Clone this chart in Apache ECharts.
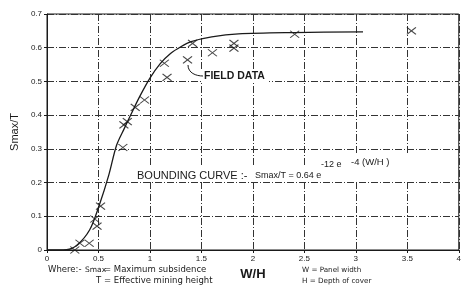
<!DOCTYPE html>
<html>
<head>
<meta charset="utf-8">
<script src="https://cdn.jsdelivr.net/npm/echarts@6/dist/echarts.min.js"></script>
<style>
  html, body { margin: 0; padding: 0; background: #fff; }
  #chart { width: 464px; height: 286px; }
</style>
</head>
<body>
<div id="chart"></div>
<script>
// field data points (W/H, Smax/T)
const fieldData = [
  [0.27, 0.0], [0.32, 0.02], [0.41, 0.02], [0.464, 0.092], [0.486, 0.071],
  [0.52, 0.13], [0.737, 0.304], [0.747, 0.371], [0.78, 0.381], [0.857, 0.423],
  [0.947, 0.445], [1.14, 0.554], [1.166, 0.512], [1.365, 0.564], [1.414, 0.613],
  [1.607, 0.585], [1.816, 0.613], [1.816, 0.599], [2.406, 0.64], [3.54, 0.65]
]

// bounding curve
const curveX = [0, 0.19, 0.29, 0.415, 0.51, 0.6, 0.675, 0.75, 0.82, 0.9, 1.0, 1.1, 1.2, 1.3, 1.4, 1.6, 1.86, 2.4, 3.07]
const curveY = [0, 0.001, 0.014, 0.06, 0.135, 0.222, 0.31, 0.36, 0.405, 0.455, 0.51, 0.553, 0.583, 0.603, 0.618, 0.632, 0.641, 0.645, 0.647]

const xTicks = ['0', '0.5', '1', '1.5', '2', '2.5', '3', '3.5', '4']
const yTicks = ['0', '0.1', '0.2', '0.3', '0.4', '0.5', '0.6', '0.7']

const ink = '#1a1a1a'
const gridDash = [7, 2, 1, 2]

const label = (x, y, text, size, extra) => ({
  type: 'text', z: 6, x, y,
  style: Object.assign({ text, fontFamily: 'Liberation Sans', fontSize: size, fill: ink, verticalAlign: 'middle' }, extra || {})
})

const chart = echarts.init(document.getElementById('chart'))

const option = {
  backgroundColor: '#fff',
  animation: false,
  grid: {
    left: 47, right: 4, top: 14, bottom: 36,
    show: true, borderColor: ink, borderWidth: 1
  },
  xAxis: {
    type: 'value', min: 0, max: 4, interval: 0.5,
    name: 'W/H', nameLocation: 'middle', nameGap: 16,
    nameTextStyle: { fontFamily: 'Liberation Sans', fontSize: 13, fontWeight: 'bold', color: ink },
    axisLine: { onZero: false, lineStyle: { color: ink, width: 1 } },
    axisTick: { length: 3, lineStyle: { color: ink } },
    axisLabel: {
      fontFamily: 'Liberation Sans', fontSize: 8, color: ink, margin: 5,
      formatter: v => xTicks[Math.round(v / 0.5)]
    },
    splitLine: { lineStyle: { color: '#333', width: 1, type: gridDash } }
  },
  yAxis: {
    type: 'value', min: 0, max: 0.7, interval: 0.1,
    name: 'Smax/T', nameLocation: 'middle', nameGap: 25,
    nameTextStyle: { fontFamily: 'Liberation Sans', fontSize: 11, color: ink },
    axisLine: { onZero: false, lineStyle: { color: ink, width: 1 } },
    axisTick: { length: 3, lineStyle: { color: ink } },
    axisLabel: {
      fontFamily: 'Liberation Sans', fontSize: 8, color: ink, margin: 5,
      formatter: v => yTicks[Math.round(v * 10)]
    },
    splitLine: { lineStyle: { color: '#333', width: 1, type: gridDash } }
  },
  series: [
    {
      name: 'Bounding curve',
      type: 'line',
      z: 4,
      data: curveX.map((x, i) => [x, curveY[i]]),
      smooth: 0.3,
      showSymbol: false,
      lineStyle: { color: ink, width: 1.3 }
    },
    {
      name: 'Field data',
      type: 'scatter',
      z: 5,
      data: fieldData,
      symbol: 'path://M0,0L10,10M10,0L0,10',
      symbolSize: [9, 7],
      itemStyle: { color: 'none', borderColor: ink, borderWidth: 1.1 }
    }
  ],
  graphic: [
    // white patches behind the annotations
    { type: 'rect', z: 1, shape: { x: 201, y: 69, width: 68, height: 13 }, style: { fill: '#fff' } },
    { type: 'rect', z: 1, shape: { x: 134, y: 166, width: 276, height: 16 }, style: { fill: '#fff' } },
    { type: 'rect', z: 1, shape: { x: 318, y: 155, width: 92, height: 12 }, style: { fill: '#fff' } },
    {
      type: 'bezierCurve', z: 6,
      shape: { x1: 188, y1: 65, x2: 203, y2: 76, cpx1: 188, cpy1: 73, cpx2: 196, cpy2: 76 },
      style: { stroke: ink, lineWidth: 1, fill: 'none' }
    },
    label(204, 76, 'FIELD DATA', 10.5, { fontWeight: 'bold' }),
    label(137, 176, 'BOUNDING CURVE :-', 11),
    label(255, 176, 'Smax/T = 0.64 e', 9),
    label(321, 165, '-12 e', 9),
    label(351, 162, '-4 (W/H )', 9.5),
    label(48, 270, 'Where:-', 8.5, { fontFamily: 'DejaVu Sans' }),
    label(85, 270, 'Smax', 7.5, { fontFamily: 'DejaVu Sans' }),
    label(104, 270, '= Maximum subsidence', 8.5, { fontFamily: 'DejaVu Sans' }),
    label(96, 281, 'T', 8.5, { fontFamily: 'DejaVu Sans' }),
    label(104, 281, '= Effective mining height', 8.5, { fontFamily: 'DejaVu Sans' }),
    label(302, 270, 'W = Panel width', 7.2, { fontFamily: 'DejaVu Sans' }),
    label(302, 281, 'H = Depth of cover', 7.2, { fontFamily: 'DejaVu Sans' })
  ]
}

chart.setOption(option)
</script>
</body>
</html>
